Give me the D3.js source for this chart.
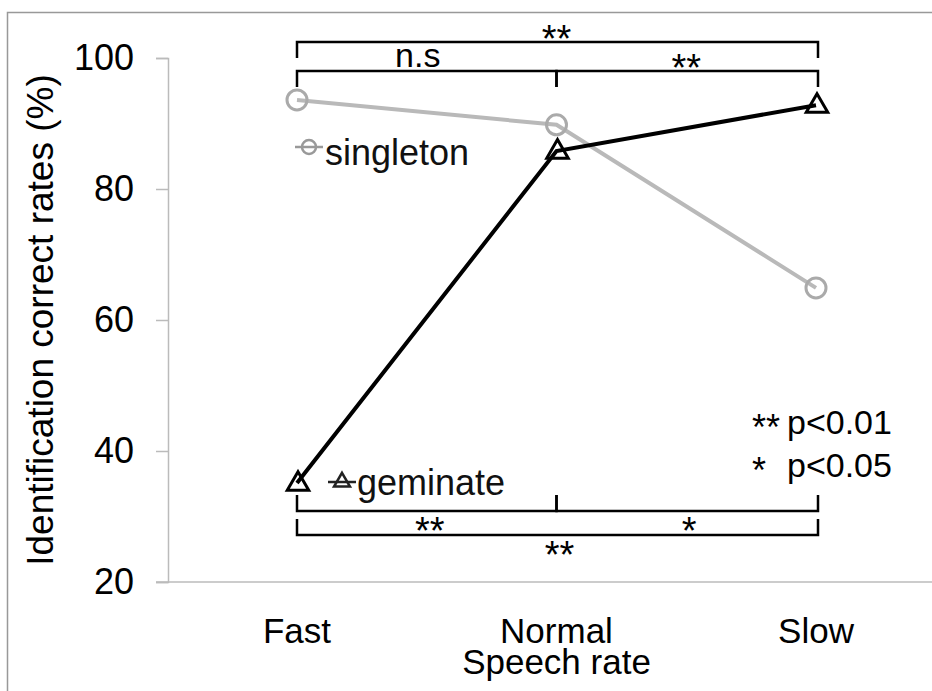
<!DOCTYPE html>
<html>
<head>
<meta charset="utf-8">
<script src="https://cdn.jsdelivr.net/npm/d3@7"></script>
<style>
  body { margin: 0; background: #fff; }
  svg { display: block; font-family: "Liberation Sans", Arial, sans-serif; }
</style>
</head>
<body>
<svg id="chart" width="932" height="691"></svg>
<script>
const rates = ['Fast', 'Normal', 'Slow']
const singleton = [93.6, 89.8, 64.9]
const geminate = [35.1, 85.8, 92.8]
const yTicks = [20, 40, 60, 80, 100]
const topComparisons = [
  { from: 'Fast', to: 'Normal', label: 'n.s', row: 1 },
  { from: 'Normal', to: 'Slow', label: '**', row: 1 },
  { from: 'Fast', to: 'Slow', label: '**', row: 0 }
]
const bottomComparisons = [
  { from: 'Fast', to: 'Normal', label: '**', row: 0 },
  { from: 'Normal', to: 'Slow', label: '*', row: 0 },
  { from: 'Fast', to: 'Slow', label: '**', row: 1 }
]
const pLegend = [['**', 'p<0.01'], ['*', 'p<0.05']]

const grayLine = '#b9b9b9'
const svg = d3.select('#chart')

var x = d3.scalePoint().domain(rates).range([297, 816])
var y = d3.scaleLinear().domain([20, 100]).range([582, 58])

// outer frame (top + left only)
svg.append('path')
  .attr('d', 'M7.5,691 L7.5,12.5 L932,12.5')
  .attr('fill', 'none')
  .attr('stroke', '#999')
  .attr('stroke-width', 1.5)

// y axis
var yAxis = svg.append('g')
  .attr('transform', 'translate(168,0)')
  .call(d3.axisLeft(y).tickValues(yTicks).tickSize(12).tickPadding(22))
yAxis.select('.domain').attr('stroke', '#bbb').attr('stroke-width', 1.5)
yAxis.selectAll('.tick line').attr('stroke', '#bbb').attr('stroke-width', 1.5)
yAxis.selectAll('.tick text')
  .attr('font-size', 36).attr('fill', '#000')
  .attr('font-family', '"Liberation Sans", Arial, sans-serif')

// x baseline
svg.append('line')
  .attr('x1', 156).attr('x2', 932)
  .attr('y1', y(20)).attr('y2', y(20))
  .attr('stroke', '#bbb').attr('stroke-width', 1.5)

svg.selectAll('.xlab').data(rates).enter().append('text')
  .attr('class', 'xlab')
  .attr('x', d => x(d)).attr('y', 643)
  .attr('text-anchor', 'middle')
  .attr('font-size', 35)
  .text(d => d)

svg.append('text')
  .attr('x', x('Normal')).attr('y', 674)
  .attr('text-anchor', 'middle')
  .attr('font-size', 35)
  .text('Speech rate')

svg.append('text')
  .attr('transform', 'translate(53,320) rotate(-90)')
  .attr('text-anchor', 'middle')
  .attr('font-size', 37)
  .text('Identification correct rates (%)')

// series
var line = d3.line().x((d, i) => x(rates[i])).y(d => y(d))

svg.append('path').datum(singleton)
  .attr('d', line).attr('fill', 'none')
  .attr('stroke', grayLine).attr('stroke-width', 4)

svg.append('path').datum(geminate)
  .attr('d', line).attr('fill', 'none')
  .attr('stroke', '#000').attr('stroke-width', 4)

svg.selectAll('.circ').data(singleton).enter().append('circle')
  .attr('cx', (d, i) => x(rates[i])).attr('cy', d => y(d))
  .attr('r', 10).attr('fill', 'none')
  .attr('stroke', '#aaa').attr('stroke-width', 3)

var tri = d3.symbol().type(d3.symbolTriangle).size(200)
svg.selectAll('.tri').data(geminate).enter().append('path')
  .attr('d', tri)
  .attr('transform', (d, i) => `translate(${x(rates[i]) + 1},${y(d) + 1})`)
  .attr('fill', 'none').attr('stroke', '#000').attr('stroke-width', 3)

// legends
var lg1 = svg.append('g').attr('transform', 'translate(309,147)')
lg1.append('line').attr('x1', -14).attr('x2', 14).attr('stroke', '#999').attr('stroke-width', 2.5)
lg1.append('circle').attr('r', 7).attr('fill', 'none').attr('stroke', '#999').attr('stroke-width', 2.5)
svg.append('text').attr('x', 325).attr('y', 165).attr('font-size', 36).attr('fill', '#111').text('singleton')

var lg2 = svg.append('g').attr('transform', 'translate(342,482)')
lg2.append('line').attr('x1', -14).attr('x2', 14).attr('stroke', '#222').attr('stroke-width', 2.5)
lg2.append('path').attr('d', d3.symbol().type(d3.symbolTriangle).size(110))
  .attr('fill', 'none').attr('stroke', '#222').attr('stroke-width', 2.5)
svg.append('text').attr('x', 357).attr('y', 495).attr('font-size', 36).attr('fill', '#111').text('geminate')

// significance brackets
function bracket(c, lineY, dir) {
  var x1 = x(c.from), x2 = x(c.to) + (c.to === 'Slow' ? 2 : 0)
  svg.append('path')
    .attr('d', `M${x1},${lineY + dir * 16} L${x1},${lineY} L${x2},${lineY} L${x2},${lineY + dir * 16}`)
    .attr('fill', 'none').attr('stroke', '#000').attr('stroke-width', 2.5)
}

// stars are drawn larger, their glyph centre sits ~0.57em above baseline
var topRowY = [42, 71]
topComparisons.forEach(c => {
  var ly = topRowY[c.row]
  bracket(c, ly, 1)
  var ns = c.label === 'n.s'
  svg.append('text')
    .attr('x', (x(c.from) + x(c.to)) / 2 - (ns ? 9 : 0))
    .attr('y', ns ? ly - 4 : ly + 10)
    .attr('text-anchor', 'middle')
    .attr('font-size', ns ? 34 : 38)
    .text(c.label)
})

var botRowY = [511, 535]
bottomComparisons.forEach(c => {
  var ly = botRowY[c.row]
  bracket(c, ly, -1)
  svg.append('text')
    .attr('x', (x(c.from) + x(c.to)) / 2 + 3)
    .attr('y', ly + 33)
    .attr('text-anchor', 'middle')
    .attr('font-size', 38)
    .text(c.label)
})

// p-value key
pLegend.forEach((p, i) => {
  svg.append('text').attr('x', 752).attr('y', 440 + i * 43)
    .attr('font-size', 36).text(p[0])
  svg.append('text').attr('x', 787).attr('y', 434 + i * 43)
    .attr('font-size', 34).text(p[1])
})
</script>
</body>
</html>
